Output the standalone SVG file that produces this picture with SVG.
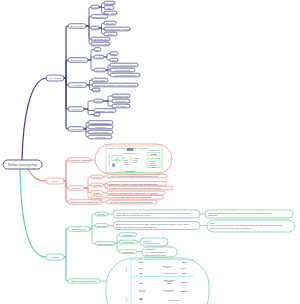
<svg xmlns="http://www.w3.org/2000/svg" width="300" height="304" viewBox="0 0 300 304">
<style>
.nv{fill:#fff;stroke:#3d4592;stroke-width:.7}
.rd{fill:#fff;stroke:#f28a85;stroke-width:.7}
.gr{fill:#fff;stroke:#5fcf97;stroke-width:.7}
.t{font-family:"Liberation Sans",Arial,sans-serif;font-size:2.3px;fill:#555;text-anchor:middle;dominant-baseline:central}
.s{font-size:1.7px}
.l{text-anchor:start}
.b{font-weight:bold;fill:#333}
.cn path{fill:none;stroke-linecap:round;stroke-linejoin:round}
.cnv path{stroke:#3d4592;stroke-width:.7}
.cnr path{stroke:#f28a85;stroke-width:.7}
.cng path{stroke:#5fcf97;stroke-width:.7}
.main{stroke-width:1.2!important}
.cy{stroke:#7fe0e6;stroke-width:.6;fill:none}
.ig{stroke:#7bd67b;stroke-width:.5;fill:none}
</style>
<rect width="300" height="304" fill="#fff"/>
<g id="connectors" class="cn">
<g class="cnv">
<path class="main" d="M22 160C23 118 30 80 46 78"/>
<path class="main" d="M64 78H66V27.5Q66 26 67.5 26H68"/>
<path class="main" d="M64 78H66V61.5Q66 60 67.5 60H68"/>
<path class="main" d="M64 78H66V83.5Q66 85 67.5 85H68"/>
<path class="main" d="M64 78H66V107.5Q66 109 67.5 109H68"/>
<path class="main" d="M64 78H66V127.5Q66 129 67.5 129H68"/>
<path d="M86 26H89V8.5Q89 7 90.5 7H91"/>
<path d="M86 26H89V18Q89 16.5 90.5 16.5H91"/>
<path d="M86 26H89V26.5Q89 28 90.5 28H91"/>
<path d="M86 26H89V37.5Q89 39 90.5 39H91"/>
<path d="M86 26H89V42.5Q89 44 90.5 44H91"/>
<path d="M99 7H101.5V4.5Q101.5 3 103 3H104"/>
<path d="M99 7H101.5V7.5H104"/>
<path d="M99 7H101.5V11.5Q101.5 13 103 13H104"/>
<path d="M99 28H101.5V24.5Q101.5 23 103 23H104"/>
<path d="M99 28H101.5V29H104"/>
<path d="M99 28H101.5V32.5Q101.5 34 103 34H104"/>
<path d="M88 60H91V51Q91 49.5 92.5 49.5H94"/>
<path d="M88 60H91V58.5Q91 57 92.5 57H94"/>
<path d="M88 60H91V68.5Q91 70 92.5 70H94"/>
<path d="M104 57H107V55Q107 53.5 108.5 53.5H110"/>
<path d="M104 57H107V58.5Q107 60 108.5 60H110"/>
<path d="M106 70H108V66.5Q108 65 109.5 65H110"/>
<path d="M106 70H110"/>
<path d="M106 70H108V73.5Q108 75 109.5 75H110"/>
<path d="M87 85H89.5V81.5Q89.5 80 91 80H92"/>
<path d="M87 85H92"/>
<path d="M87 85H89.5V88.5Q89.5 90 91 90H92"/>
<path d="M84 109H88V102.5Q88 101 89.5 101H94"/>
<path d="M84 109H88V110.5H94"/>
<path d="M84 109H88V113Q88 114.5 89.5 114.5H94"/>
<path d="M103 101H108V97.5Q108 96 109.5 96H112"/>
<path d="M103 101H112"/>
<path d="M103 101H108V104.5Q108 106 109.5 106H112"/>
<path d="M84 129H86V124Q86 122.5 87.5 122.5H88"/>
<path d="M84 129H86V127H88"/>
<path d="M84 129H86V130.5Q86 132 87.5 132H88"/>
<path d="M84 129H86V135.5Q86 137 87.5 137H88"/>
</g>
<g class="cnr">
<path class="main" d="M28 169C33 178 38 181 46 181"/>
<path class="main" d="M64 181H66V161.5Q66 160 67.5 160H68"/>
<path class="main" d="M64 181H66V186.5Q66 188 67.5 188H68"/>
<path class="main" d="M64 181H66V200.5Q66 202 67.5 202H68"/>
<path d="M91 160H95"/>
<path d="M84 188H88V178.5Q88 177 89.5 177H91"/>
<path d="M84 188H88V186.5Q88 185 89.5 185H91"/>
<path d="M84 188H88V191Q88 192.5 89.5 192.5H91"/>
<path d="M84 188H88V196.5Q88 198 89.5 198H91"/>
<path d="M103 177H105V176H107"/>
<path d="M103 185H105V183.5H107"/>
<path d="M103 185H105V188H107"/>
<path d="M103 192.5H105V193H107"/>
<path d="M103 198H105V197.3H107"/>
<path d="M101 202H107"/>
</g>
<g class="cng">
<path class="main" d="M20 169C21 228 30 257 46 257"/>
<path class="main" d="M64 257H66V230.5Q66 229 67.5 229H68"/>
<path class="main" d="M64 257H66V279.5Q66 281 67.5 281H68"/>
<path d="M90 229H92V215.5Q92 214 93.5 214H95"/>
<path d="M90 229H92V227Q92 225.5 93.5 225.5H95"/>
<path d="M90 229H92V242Q92 243.5 93.5 243.5H95"/>
<path d="M108 214H113"/>
<path d="M200 214H205"/>
<path d="M108 225.5H113"/>
<path d="M200 225.5H207"/>
<path d="M115 243.5H117V236Q117 234.5 118.5 234.5H119"/>
<path d="M115 243.5H117V242H119"/>
<path d="M115 243.5H117V250Q117 251.5 118.5 251.5H119"/>
<path d="M137 242H140"/>
<path d="M137 251.5H142"/>
<path d="M100 281H106"/>
</g>
</g>

<g id="root"><rect x="3" y="160" width="39" height="9" rx="4.5" fill="#fff" stroke="#3d4592" stroke-width=".9"/><text class="t" x="22.5" y="164.6" style="font-size:3.2px">Python learning map</text></g>

<g id="n-core"><rect class="nv" x="46" y="75" width="18" height="6" rx="3"/><text class="t" x="55" y="78">Core Skills</text></g>
<g id="n-a"><rect class="nv" x="68" y="23.75" width="18" height="4.5" rx="2.25"/><text class="t" x="77" y="26">Basic syntax</text></g>
<g id="n-b"><rect class="nv" x="68" y="57.75" width="20" height="4.5" rx="2.25"/><text class="t" x="78" y="60">Data structures</text></g>
<g id="n-c"><rect class="nv" x="68" y="82.75" width="19" height="4.5" rx="2.25"/><text class="t" x="77.5" y="85">Functions</text></g>
<g id="n-d"><rect class="nv" x="68" y="106.75" width="16" height="4.5" rx="2.25"/><text class="t" x="76" y="109">Modules</text></g>
<g id="n-e"><rect class="nv" x="68" y="126.75" width="16" height="4.5" rx="2.25"/><text class="t" x="76" y="129">OOP basics</text></g>
<g id="n-a1"><rect class="nv" x="91" y="5.2" width="8" height="3.6" rx="1.8"/><text class="t" x="95" y="7">Types</text></g>
<g id="n-a1a"><rect class="nv" x="104" y="1.2" width="11" height="3.6" rx="1.8"/><text class="t" x="109.5" y="3">int / float</text></g>
<g id="n-a1b"><rect class="nv" x="104" y="5.7" width="10" height="3.6" rx="1.8"/><text class="t" x="109" y="7.5">str</text></g>
<g id="n-a1c"><rect class="nv" x="104" y="11.2" width="13" height="3.6" rx="1.8"/><text class="t" x="110.5" y="13">bool / None</text></g>
<g id="n-a2"><rect class="nv" x="91" y="14.7" width="17" height="3.6" rx="1.8"/><text class="t" x="99.5" y="16.5">Operators, if</text></g>
<g id="n-a3"><rect class="nv" x="91" y="26.2" width="8" height="3.6" rx="1.8"/><text class="t" x="95" y="28">Loops</text></g>
<g id="n-a3a"><rect class="nv" x="104" y="21.2" width="12" height="3.6" rx="1.8"/><text class="t" x="110" y="23">for loop</text></g>
<g id="n-a3b"><rect class="nv" x="104" y="27.2" width="26" height="3.6" rx="1.8"/><text class="t" x="117" y="29">while with break / continue</text></g>
<g id="n-a3c"><rect class="nv" x="104" y="32.2" width="13" height="3.6" rx="1.8"/><text class="t" x="110.5" y="34">range()</text></g>
<g id="n-a4"><rect class="nv" x="91" y="37.2" width="19" height="3.6" rx="1.8"/><text class="t" x="100.5" y="39">Comments, style</text></g>
<g id="n-a5"><rect class="nv" x="91" y="42.2" width="19" height="3.6" rx="1.8"/><text class="t" x="100.5" y="44">Input and output</text></g>
<g id="n-b1"><rect class="nv" x="94" y="47.7" width="7" height="3.6" rx="1.8"/><text class="t" x="97.5" y="49.5">list</text></g>
<g id="n-b2"><rect class="nv" x="94" y="55.2" width="10" height="3.6" rx="1.8"/><text class="t" x="99" y="57">tuple</text></g>
<g id="n-b2a"><rect class="nv" x="110" y="51.7" width="8" height="3.6" rx="1.8"/><text class="t" x="114" y="53.5">index</text></g>
<g id="n-b2b"><rect class="nv" x="110" y="58.2" width="8" height="3.6" rx="1.8"/><text class="t" x="114" y="60">slice</text></g>
<g id="n-b3"><rect class="nv" x="94" y="68.2" width="12" height="3.6" rx="1.8"/><text class="t" x="100" y="70">dict / set</text></g>
<g id="n-b3a"><rect class="nv" x="110" y="63.2" width="28" height="3.6" rx="1.8"/><text class="t" x="124" y="65">keys, values and items</text></g>
<g id="n-b3b"><rect class="nv" x="110" y="68.2" width="25" height="3.6" rx="1.8"/><text class="t" x="122.5" y="70">set operations</text></g>
<g id="n-b3c"><rect class="nv" x="110" y="73.2" width="30" height="3.6" rx="1.8"/><text class="t" x="125" y="75">list comprehensions</text></g>
<g id="n-c1"><rect class="nv" x="92" y="78.2" width="16" height="3.6" rx="1.8"/><text class="t" x="100" y="80">def, return</text></g>
<g id="n-c2"><rect class="nv" x="92" y="83.2" width="46" height="3.6" rx="1.8"/><text class="t" x="115" y="85">arguments, defaults, *args and **kwargs</text></g>
<g id="n-c3"><rect class="nv" x="92" y="88.2" width="8" height="3.6" rx="1.8"/><text class="t" x="96" y="90">lambda</text></g>
<g id="n-d1"><rect class="nv" x="94" y="99.2" width="9" height="3.6" rx="1.8"/><text class="t" x="98.5" y="101">import</text></g>
<g id="n-d1a"><rect class="nv" x="112" y="94.2" width="18" height="3.6" rx="1.8"/><text class="t" x="121" y="96">standard library</text></g>
<g id="n-d1b"><rect class="nv" x="112" y="99.2" width="18" height="3.6" rx="1.8"/><text class="t" x="121" y="101">third-party</text></g>
<g id="n-d1c"><rect class="nv" x="112" y="104.2" width="18" height="3.6" rx="1.8"/><text class="t" x="121" y="106">pip install</text></g>
<g id="n-d2"><rect class="nv" x="94" y="108.7" width="22" height="3.6" rx="1.8"/><text class="t" x="105" y="110.5">packages, __init__</text></g>
<g id="n-d3"><rect class="nv" x="94" y="112.7" width="6" height="3.6" rx="1.8"/><text class="t" x="97" y="114.5">venv</text></g>
<g id="n-e1"><rect class="nv" x="88" y="120.7" width="25" height="3.6" rx="1.8"/><text class="t" x="100.5" y="122.5">class and object</text></g>
<g id="n-e2"><rect class="nv" x="88" y="125.2" width="25" height="3.6" rx="1.8"/><text class="t" x="100.5" y="127">inheritance</text></g>
<g id="n-e3"><rect class="nv" x="88" y="130.2" width="25" height="3.6" rx="1.8"/><text class="t" x="100.5" y="132">magic methods</text></g>
<g id="n-e4"><rect class="nv" x="88" y="135.2" width="24" height="3.6" rx="1.8"/><text class="t" x="100" y="137">exceptions</text></g>

<g id="n-tools"><rect class="rd" x="46" y="178" width="18" height="6" rx="3"/><text class="t" x="55" y="181">Tools</text></g>
<g id="n-f"><rect class="rd" x="68" y="157.75" width="23" height="4.5" rx="2.25"/><text class="t" x="79.5" y="160">Architecture diagram</text></g>
<g id="n-g"><rect class="rd" x="68" y="185.75" width="16" height="4.5" rx="2.25"/><text class="t" x="76" y="188">Libraries</text></g>
<g id="n-h"><rect class="rd" x="68" y="199.75" width="33" height="4.5" rx="2.25"/><text class="t" x="84.5" y="202">Editors and debugging tools</text></g>
<g id="n-g1"><rect class="rd" x="91" y="175.2" width="12" height="3.6" rx="1.8"/><text class="t" x="97" y="177">NumPy</text></g>
<g id="n-g2"><rect class="rd" x="91" y="183.2" width="12" height="3.6" rx="1.8"/><text class="t" x="97" y="185">pandas</text></g>
<g id="n-g3"><rect class="rd" x="91" y="190.7" width="12" height="3.6" rx="1.8"/><text class="t" x="97" y="192.5">Flask</text></g>
<g id="n-g4"><rect class="rd" x="91" y="196.2" width="12" height="3.6" rx="1.8"/><text class="t" x="97" y="198">requests</text></g>
<g id="n-r1"><rect class="rd" x="107" y="174.2" width="60" height="3.6" rx="1.8"/><text class="t l" x="109" y="176">Arrays, vectorised maths and broadcasting rules</text></g>
<g id="n-r2"><rect class="rd" x="107" y="181.7" width="60" height="3.6" rx="1.8"/><text class="t l" x="109" y="183.5">DataFrame reading, cleaning and grouping data</text></g>
<g id="n-r3"><rect class="rd" x="107" y="186.2" width="66" height="3.6" rx="1.8"/><text class="t l" x="109" y="188">Merging, pivot tables and time series analysis work</text></g>
<g id="n-r4"><rect class="rd" x="107" y="191.2" width="58" height="3.6" rx="1.8"/><text class="t l" x="109" y="193">Routing, templates and a small web API service</text></g>
<g id="n-r5"><rect class="rd" x="107" y="195.5" width="56" height="3.6" rx="1.8"/><text class="t l" x="109" y="197.3">HTTP requests, sessions and JSON data</text></g>
<g id="n-r6"><rect class="rd" x="107" y="200.2" width="50" height="3.6" rx="1.8"/><text class="t l" x="109" y="202">VS Code, PyCharm and the pdb debugger</text></g>
<g id="n-fig">
<rect class="rd" x="95" y="144" width="77" height="30" rx="15" stroke-width=".9"/>
<rect x="106" y="146" width="56" height="26.5" fill="#fff" stroke="#7bd67b" stroke-width=".5"/>
<text class="t s l" x="107.5" y="147.6">client layer · api gateway · service layer · data pipeline</text>
<text class="t b" x="130" y="150.3" style="font-size:2.8px">WEB</text>
<text class="t s" x="130" y="152.8">application server</text>
<text class="t s" x="154" y="150">storage layer</text>
<rect class="ig" x="147" y="152.5" width="13" height="3"/>
<text class="t s b" x="153.5" y="154">CACHE</text>
<rect class="ig" x="147" y="158.5" width="13" height="9"/>
<text class="t s" x="153.5" y="160.5">queue</text>
<text class="t s" x="153.5" y="162.5">worker</text>
<text class="t s" x="153.5" y="164.5">scheduler</text>
<text class="t s" x="153.5" y="166.5">logs</text>
<text class="t s" x="108.5" y="160" transform="rotate(-90 108.5 160)">frontend clients</text>
<rect class="ig" x="112" y="155.5" width="10" height="5"/>
<text class="t s" x="117" y="157.2">API</text>
<text class="t s" x="117" y="159">server</text>
<path class="ig" d="M122 158H126M130 154V162M118 161V164"/>
<text class="t s l" x="124" y="160">auth</text>
<text class="t s l" x="124" y="162">users</text>
<text class="t s l" x="124" y="164">orders</text>
<text class="t s l" x="133" y="158">models</text>
<text class="t s l" x="133" y="160">views</text>
<text class="t s l" x="133" y="162">forms</text>
<rect x="112.5" y="163.5" width="2" height="3" fill="#4a6fd0"/>
<text class="t s b" x="130" y="170.5">DATABASE</text>
<path class="ig" d="M116 172H144"/>
</g>

<g id="n-practice"><rect class="gr" x="46" y="254" width="18" height="6" rx="3"/><text class="t" x="55" y="257">Practice</text></g>
<g id="n-i"><rect class="gr" x="68" y="226.75" width="22" height="4.5" rx="2.25"/><text class="t" x="79" y="229">Small projects</text></g>
<g id="n-j"><rect class="gr" x="68" y="278.75" width="32" height="4.5" rx="2.25"/><text class="t" x="84" y="281">Study plan and schedule</text></g>
<g id="n-i1"><rect class="gr" x="95" y="212.2" width="13" height="3.6" rx="1.8"/><text class="t" x="101.5" y="214">Scripts</text></g>
<g id="n-i2"><rect class="gr" x="95" y="223.7" width="13" height="3.6" rx="1.8"/><text class="t" x="101.5" y="225.5">Web app</text></g>
<g id="n-i3"><rect class="gr" x="95" y="241.7" width="20" height="3.6" rx="1.8"/><text class="t" x="105" y="243.5">Data analysis</text></g>
<g id="n-l1"><rect class="gr" x="113" y="210" width="87" height="8" rx="4"/><text class="t l" x="116" y="212.6">Automate file renaming, backups and reports with small scripts; schedule</text><text class="t l" x="116" y="215.4">them with cron and log the results</text></g>
<g id="n-l1b"><rect class="gr" x="205" y="210" width="88" height="8" rx="4"/><text class="t l" x="208" y="212.6">Use argparse for options, pathlib for files and logging for output;</text><text class="t l" x="208" y="215.4">add tests</text></g>
<g id="n-l2"><rect class="gr" x="113" y="221.5" width="87" height="8" rx="4"/><text class="t l" x="116" y="224.1">Build a to-do web app with Flask, forms and SQLite; deploy it on a small</text><text class="t l" x="116" y="226.9">server and add user login with sessions</text></g>
<g id="n-l2b"><rect class="gr" x="207" y="220" width="88" height="12" rx="6"/><text class="t l" x="210" y="222.6">Tips</text><text class="t l" x="210" y="225.4">Keep routes thin, move logic into functions and write tests for each view</text><text class="t l" x="210" y="228.2">Use templates for pages and a config file</text></g>
<g id="n-i3a"><rect class="gr" x="119" y="232.7" width="18" height="3.6" rx="1.8"/><text class="t" x="128" y="234.5">load CSV</text></g>
<g id="n-i3b"><rect class="gr" x="119" y="240.2" width="18" height="3.6" rx="1.8"/><text class="t" x="128" y="242">clean data</text></g>
<g id="n-i3c"><rect class="gr" x="119" y="249.7" width="18" height="3.6" rx="1.8"/><text class="t" x="128" y="251.5">plot charts</text></g>
<g id="n-i3b1"><rect class="gr" x="140" y="238" width="28" height="8" rx="4"/><text class="t l" x="143" y="240.6">dropna</text><text class="t l" x="143" y="243.4">fill and fix types</text></g>
<g id="n-i3c1"><rect class="gr" x="142" y="247" width="35" height="10" rx="5"/><text class="t l" x="145" y="249.3">matplotlib</text><text class="t l" x="145" y="251.9">line, bar and scatter</text><text class="t l" x="145" y="254.5">save figures as PNG</text></g>
<g id="n-plan">
<rect class="gr" x="106" y="258" width="103" height="64" rx="28" stroke-width=".9"/>
<path class="cy" d="M131 259.5H194M131 259.5V304M131 276.5H194"/>
<text class="t s" x="126" y="269" transform="rotate(-90 126 269)">month 1</text>
<text class="t s" x="126" y="299" transform="rotate(-90 126 299)">month 2</text>
<text class="t s b" x="141" y="262">week</text>
<text class="t s b" x="184" y="262">tasks</text>
<text class="t s b" x="141" y="267.5">W1</text>
<text class="t s" x="167" y="265.5">syntax, types</text>
<text class="t s" x="167" y="267.3">loops</text>
<text class="t s" x="183" y="267.5">review</text>
<text class="t s b" x="141" y="273">W2</text>
<text class="t s" x="170" y="273">functions, modules</text>
<text class="t s b" x="184" y="273.2">quiz</text>
<text class="t s b" x="141" y="282.5">W3</text>
<text class="t s" x="169" y="279.5">classes, objects</text>
<text class="t s" x="169" y="281.3">inheritance</text>
<text class="t s" x="169" y="283.1">errors</text>
<text class="t s b" x="184" y="281.5">project</text>
<text class="t s" x="142" y="289.5">W4 - W5</text>
<text class="t s" x="142" y="291.3">libraries</text>
<text class="t s" x="168" y="289.5">numpy, pandas</text>
<text class="t s" x="168" y="291.3">flask</text>
<text class="t s b" x="184" y="291">practice</text>
<text class="t s b" x="141" y="297.5">W6</text>
<text class="t s b" x="141" y="299.3">final</text>
<text class="t s" x="174" y="299.5">portfolio project</text>
</g>
</svg>
